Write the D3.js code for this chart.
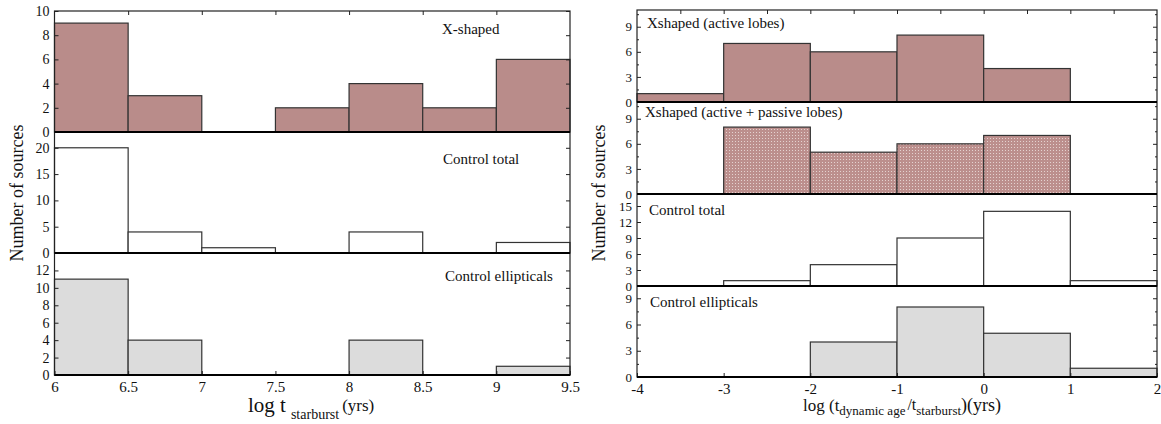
<!DOCTYPE html>
<html>
<head>
<meta charset="utf-8">
<script src="https://cdn.jsdelivr.net/npm/d3@7"></script>
<style>
body { margin: 0; background: #fff; }
text { font-family: "Liberation Serif", "Times New Roman", serif; fill: #111; }
</style>
</head>
<body>
<div id="chart"></div>
<script>
// bin edges and counts
var leftEdges = [6, 6.5, 7, 7.5, 8, 8.5, 9, 9.5]
var leftXshaped = [9, 3, 0, 2, 4, 2, 6]
var leftControlTotal = [20, 4, 1, 0, 4, 0, 2]
var leftControlEll = [11, 4, 0, 0, 4, 0, 1]

var rightEdges = [-4, -3, -2, -1, 0, 1, 2]
var rightActive = [1, 7, 6, 8, 4, 0]
var rightActivePassive = [0, 8, 5, 6, 7, 0]
var rightControlTotal = [0, 1, 4, 9, 14, 1]
var rightControlEll = [0, 0, 4, 8, 5, 1]

var leftXTicks = [6, 6.5, 7, 7.5, 8, 8.5, 9, 9.5]
var rightXTicks = [-4, -3, -2, -1, 0, 1, 2]
var rightTopTicks = [-3.5, -3, -2.5, -2, -1.5, -1, -0.5, 0, 0.5, 1, 1.5]

var brown = "#b98c8a"
var grey = "#dcdcdc"

var svg = d3.select("#chart")
            .append("svg")
            .attr("width", 1161)
            .attr("height", 424)

var defs = svg.append("defs")
var pat = defs.append("pattern")
              .attr("id", "dots")
              .attr("patternUnits", "userSpaceOnUse")
              .attr("width", 3)
              .attr("height", 3)
pat.append("rect").attr("width", 3).attr("height", 3).attr("fill", "#bc8f8d")
pat.append("rect").attr("width", 1).attr("height", 1).attr("fill", "#e4d2d0")

// plain hyphen for negatives, like the original
var fmt = function(d) { return String(d) }

function styleAxis(g) {
    g.attr("font-family", "Liberation Serif")
     .attr("font-size", 14)
     .attr("color", "#222")
    g.select(".domain").remove()
}

function drawPanel(p) {
    var x = p.x
    var y = d3.scaleLinear().domain([0, p.max]).range([p.bottom, p.top])
    var g = svg.append("g")

    var bars = p.counts.map(function(c, i) {
        return {x0: p.edges[i], x1: p.edges[i + 1], c: c}
    }).filter(function(d) { return d.c > 0 })

    g.selectAll("rect")
        .data(bars)
        .enter()
        .append("rect")
        .attr("x", function(d) { return x(d.x0) })
        .attr("y", function(d) { return y(d.c) })
        .attr("width", function(d) { return x(d.x1) - x(d.x0) })
        .attr("height", function(d) { return y(0) - y(d.c) })
        .attr("fill", p.fill)
        .attr("stroke", "#333")
        .attr("stroke-width", 1.2)

    var x0 = x.range()[0], x1 = x.range()[1]

    g.append("g").attr("transform", "translate(" + x0 + ",0)")
        .call(d3.axisLeft(y).tickValues(p.ticks).tickSize(-4).tickPadding(5).tickFormat(fmt))
        .call(styleAxis)
        .attr("font-size", p.tickFont || 14)
    g.append("g").attr("transform", "translate(" + x1 + ",0)")
        .call(d3.axisRight(y).tickValues(p.ticks).tickSize(-4).tickFormat(""))
        .call(styleAxis)
    if (p.minor) {
        g.append("g").attr("transform", "translate(" + x0 + ",0)")
            .call(d3.axisLeft(y).tickValues(p.minor).tickSize(-2).tickFormat(""))
            .call(styleAxis)
        g.append("g").attr("transform", "translate(" + x1 + ",0)")
            .call(d3.axisRight(y).tickValues(p.minor).tickSize(-2).tickFormat(""))
            .call(styleAxis)
    }
    if (p.topTicks) {
        g.append("g").attr("transform", "translate(0," + p.top + ")")
            .call(d3.axisTop(x).tickValues(p.topTicks).tickSize(-4).tickFormat(""))
            .call(styleAxis)
    }
    if (p.xTicks) {
        g.append("g").attr("transform", "translate(0," + p.bottom + ")")
            .call(d3.axisBottom(x).tickValues(p.xTicks).tickSize(-4).tickPadding(6).tickFormat(fmt))
            .call(styleAxis)
            .attr("font-size", 15)
    }

    g.append("text")
        .attr("x", p.lx)
        .attr("y", p.ly)
        .attr("font-size", 15)
        .text(p.label)
}

function frame(x, tops) {
    var x0 = x.range()[0], x1 = x.range()[1]
    svg.append("rect")
        .attr("x", x0).attr("y", tops[0])
        .attr("width", x1 - x0).attr("height", tops[tops.length - 1] - tops[0])
        .attr("fill", "none").attr("stroke", "#222").attr("stroke-width", 1.2)
    svg.selectAll(null)
        .data(tops.slice(1))
        .enter()
        .append("line")
        .attr("x1", x0).attr("x2", x1)
        .attr("y1", function(d) { return d }).attr("y2", function(d) { return d })
        .attr("stroke", "#000").attr("stroke-width", 2)
}

// left figure
var xl = d3.scaleLinear().domain([6, 9.5]).range([54.5, 570])
var lt = [11, 132, 253, 375]

drawPanel({x: xl, top: lt[0], bottom: lt[1], max: 10, ticks: [0, 2, 4, 6, 8, 10],
    counts: leftXshaped, edges: leftEdges, fill: brown, label: "X-shaped", lx: 442, ly: 34,
    topTicks: leftXTicks.slice(1, -1)})
drawPanel({x: xl, top: lt[1], bottom: lt[2], max: 23, ticks: [0, 5, 10, 15, 20],
    counts: leftControlTotal, edges: leftEdges, fill: "#fff", label: "Control total", lx: 443, ly: 164})
drawPanel({x: xl, top: lt[2], bottom: lt[3], max: 14, ticks: [0, 2, 4, 6, 8, 10, 12],
    counts: leftControlEll, edges: leftEdges, fill: grey, label: "Control ellipticals", lx: 445, ly: 281,
    xTicks: leftXTicks})
frame(xl, lt)

// right figure
var xr = d3.scaleLinear().domain([-4, 2]).range([637, 1157])
var rt = [10, 102, 194, 286, 377]

drawPanel({x: xr, top: rt[0], bottom: rt[1], max: 11, ticks: [0, 3, 6, 9], minor: [1.5, 4.5, 7.5, 10.5],
    counts: rightActive, edges: rightEdges, fill: brown, label: "Xshaped (active lobes)", lx: 647, ly: 28,
    topTicks: rightTopTicks, tickFont: 13})
drawPanel({x: xr, top: rt[1], bottom: rt[2], max: 11, ticks: [0, 3, 6, 9], minor: [1.5, 4.5, 7.5, 10.5],
    counts: rightActivePassive, edges: rightEdges, fill: "url(#dots)", label: "Xshaped (active + passive lobes)", lx: 645, ly: 117,
    tickFont: 13})
drawPanel({x: xr, top: rt[2], bottom: rt[3], max: 17.25, ticks: [0, 3, 6, 9, 12, 15],
    counts: rightControlTotal, edges: rightEdges, fill: "#fff", label: "Control total", lx: 649, ly: 215,
    tickFont: 13})
drawPanel({x: xr, top: rt[3], bottom: rt[4], max: 10.4, ticks: [0, 3, 6, 9], minor: [1.5, 4.5, 7.5],
    counts: rightControlEll, edges: rightEdges, fill: grey, label: "Control ellipticals", lx: 650, ly: 307,
    xTicks: rightXTicks, tickFont: 13})
frame(xr, rt)

// axis titles
svg.append("text")
    .attr("transform", "translate(23,193) rotate(-90)")
    .attr("text-anchor", "middle")
    .attr("font-size", 18)
    .text("Number of sources")
svg.append("text")
    .attr("transform", "translate(605,193) rotate(-90)")
    .attr("text-anchor", "middle")
    .attr("font-size", 18)
    .text("Number of sources")

var lx = svg.append("text").attr("x", 248).attr("y", 412)
lx.append("tspan").attr("font-size", 21).text("log t")
lx.append("tspan").attr("font-size", 14).attr("dx", 5).attr("dy", 7).text("starburst")
lx.append("tspan").attr("font-size", 17).attr("dx", 3).attr("dy", -8).text("(yrs)")

var rx = svg.append("text").attr("x", 803).attr("y", 411)
rx.append("tspan").attr("font-size", 17).text("log (t")
rx.append("tspan").attr("font-size", 13).attr("dy", 4).text("dynamic age")
rx.append("tspan").attr("font-size", 16).attr("dx", 2).attr("dy", -5).text("/t")
rx.append("tspan").attr("font-size", 13).attr("dy", 5).text("starburst")
rx.append("tspan").attr("font-size", 18).attr("dy", -4).text(")(yrs)")
</script>
</body>
</html>
